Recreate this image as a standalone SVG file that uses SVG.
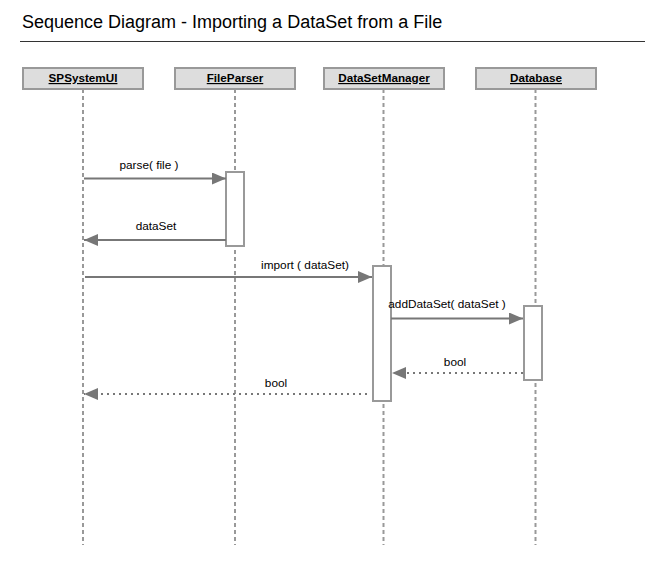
<svg xmlns="http://www.w3.org/2000/svg" width="667" height="565" viewBox="0 0 667 565">
<style>
text{font-family:"Liberation Sans",Arial,sans-serif;fill:#000000}
.title{font-size:18px}
.hdr{fill:#dddddd;stroke:#999999;stroke-width:2}
.hname{font-size:11.7px;font-weight:bold;text-decoration:underline;text-anchor:middle}
.life{stroke:#999999;stroke-width:2;stroke-dasharray:4,3;fill:none}
.act{fill:#ffffff;stroke:#999999;stroke-width:2}
.msg{stroke:#777777;stroke-width:2;fill:none}
.ret{stroke:#777777;stroke-width:2;fill:none;stroke-dasharray:2,4}
.lbl{font-size:11.8px;text-anchor:middle}
</style>
<defs>
<marker id="arr" viewBox="0 0 14 12" refX="14" refY="6" markerWidth="14" markerHeight="12" markerUnits="userSpaceOnUse" orient="auto">
<path d="M0,0 L14,6 L0,12 Z" fill="#777777"/>
</marker>
</defs>
<rect width="667" height="565" fill="#ffffff"/>
<text class="title" x="22" y="28">Sequence Diagram - Importing a DataSet from a File</text>
<line x1="20" y1="41.5" x2="645" y2="41.5" stroke="#333333" stroke-width="1"/>

<g id="SPSystemUI">
<line class="life" x1="83" y1="89" x2="83" y2="545"/>
<rect class="hdr" x="23" y="68" width="120" height="21"/>
<text class="hname" x="83" y="82">SPSystemUI</text>
</g>
<g id="FileParser">
<line class="life" x1="235" y1="89" x2="235" y2="545"/>
<rect class="hdr" x="175" y="68" width="120" height="21"/>
<text class="hname" x="235" y="82">FileParser</text>
<rect class="act" x="226" y="172" width="18" height="74"/>
</g>
<g id="DataSetManager">
<line class="life" x1="383.5" y1="89" x2="383.5" y2="545"/>
<rect class="hdr" x="324" y="68" width="120" height="21"/>
<text class="hname" x="384" y="82">DataSetManager</text>
<rect class="act" x="373" y="266" width="18" height="135"/>
</g>
<g id="Database">
<line class="life" x1="535.5" y1="89" x2="535.5" y2="545"/>
<rect class="hdr" x="476" y="68" width="120" height="21"/>
<text class="hname" x="536" y="82">Database</text>
<rect class="act" x="524" y="306" width="18" height="74"/>
</g>

<g id="connectors">
<line class="msg" x1="84" y1="178.5" x2="226" y2="178.5" marker-end="url(#arr)"/>
<text class="lbl" x="149" y="169">parse( file )</text>
<line class="msg" x1="226" y1="240" x2="84" y2="240" marker-end="url(#arr)"/>
<text class="lbl" x="156" y="230">dataSet</text>
<line class="msg" x1="85" y1="277" x2="372" y2="277" marker-end="url(#arr)"/>
<text class="lbl" x="305" y="269">import ( dataSet)</text>
<line class="msg" x1="391" y1="318.5" x2="523" y2="318.5" marker-end="url(#arr)"/>
<text class="lbl" x="447" y="308">addDataSet( dataSet )</text>
<line class="ret" x1="523" y1="373" x2="392" y2="373" marker-end="url(#arr)"/>
<text class="lbl" x="455" y="366">bool</text>
<line class="ret" x1="367" y1="394" x2="84" y2="394" marker-end="url(#arr)"/>
<text class="lbl" x="276" y="387">bool</text>
</g>
</svg>
